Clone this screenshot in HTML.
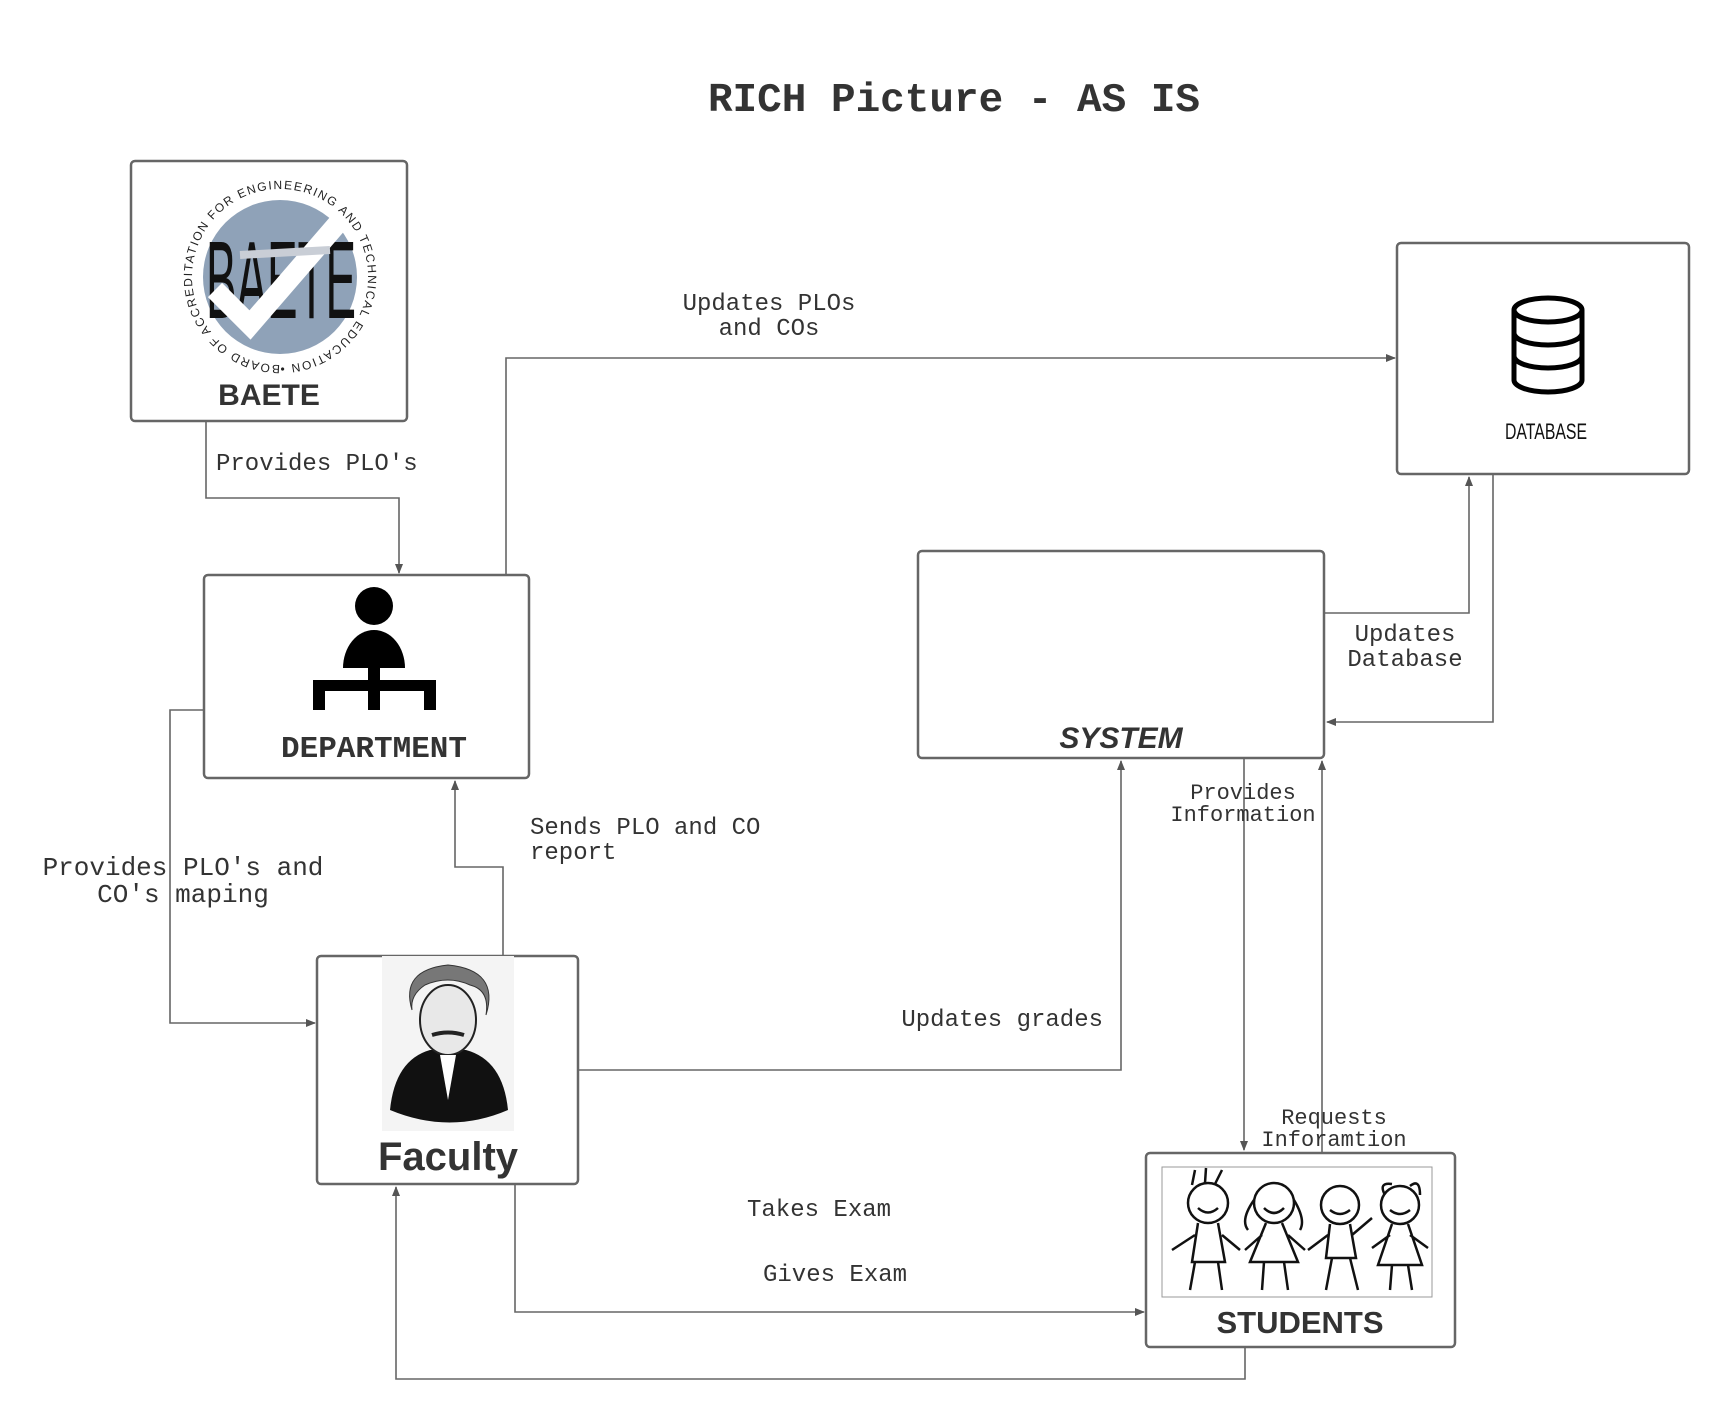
<!DOCTYPE html>
<html><head><meta charset="utf-8"><style>
html,body{margin:0;padding:0;background:#fff}
svg{display:block}
.lbl{font-family:"Liberation Mono",monospace;fill:#333}
</style></head><body>
<svg width="1722" height="1415" viewBox="0 0 1722 1415" xmlns="http://www.w3.org/2000/svg">
<defs>
<marker id="a" markerWidth="10" markerHeight="10" refX="9" refY="5" orient="auto" markerUnits="userSpaceOnUse"><path d="M0,1 L10,5 L0,9 Z" fill="#555"/></marker>
<path id="circ" d="M280,365 A88,88 0 1,1 280.1,365"/>
</defs>
<text x="954" y="111" text-anchor="middle" font-family="Liberation Mono,monospace" font-weight="bold" font-size="41" fill="#333">RICH Picture - AS IS</text>

<g fill="#fff" stroke="#666" stroke-width="2.5">
<rect x="131" y="161" width="276" height="260" rx="4"/>
<rect x="1397" y="243" width="292" height="231" rx="4"/>
<rect x="204" y="575" width="325" height="203" rx="4"/>
<rect x="918" y="551" width="406" height="207" rx="4"/>
<rect x="317" y="956" width="261" height="228" rx="4"/>
<rect x="1146" y="1153" width="309" height="194" rx="4"/>
</g>

<!-- BAETE logo -->
<circle cx="280" cy="277" r="77" fill="#8fa2b8"/>
<text font-family="Liberation Sans Narrow,Liberation Sans,sans-serif" font-size="110" fill="#111" x="206" y="318" textLength="150" lengthAdjust="spacingAndGlyphs">BAETE</text>
<path d="M215,290 L250,325 L345,215" fill="none" stroke="#fff" stroke-width="20"/>
<path d="M240,255 L330,250" stroke="#c9ced6" stroke-width="8"/>
<text font-family="Liberation Sans,sans-serif" font-size="12" fill="#222" letter-spacing="1.5"><textPath href="#circ">BOARD OF ACCREDITATION FOR ENGINEERING AND TECHNICAL EDUCATION •</textPath></text>
<text x="269" y="405" text-anchor="middle" font-family="Liberation Sans,sans-serif" font-weight="bold" font-size="30" fill="#333">BAETE</text>

<!-- Database icon -->
<g fill="none" stroke="#000" stroke-width="5">
<ellipse cx="1548" cy="310" rx="34" ry="12"/>
<path d="M1514,310 V380 A34,12 0 0,0 1582,380 V310"/>
<path d="M1514,333 A34,12 0 0,0 1582,333"/>
<path d="M1514,356 A34,12 0 0,0 1582,356"/>
</g>
<text x="1546" y="439" text-anchor="middle" font-family="Liberation Sans Narrow,Liberation Sans,sans-serif" font-size="22" fill="#111" textLength="82" lengthAdjust="spacingAndGlyphs">DATABASE</text>

<!-- Department icon -->
<circle cx="374" cy="606" r="19" fill="#000"/>
<path d="M343,668 A31,38 0 0,1 405,668 Z" fill="#000"/>
<rect x="368" y="660" width="12" height="50" fill="#000"/>
<rect x="313" y="680" width="123" height="11" fill="#000"/>
<rect x="313" y="680" width="12" height="30" fill="#000"/>
<rect x="424" y="680" width="12" height="30" fill="#000"/>
<text x="374" y="757" text-anchor="middle" font-family="Liberation Mono,monospace" font-weight="bold" font-size="31" fill="#333">DEPARTMENT</text>

<text x="1121" y="748" text-anchor="middle" font-family="Liberation Sans,sans-serif" font-weight="bold" font-style="italic" font-size="30" fill="#333">SYSTEM</text>

<!-- Faculty image -->
<rect x="382" y="956" width="132" height="175" fill="#f4f4f4"/>
<path d="M390,1110 Q395,1060 430,1050 L466,1050 Q503,1060 508,1110 Q450,1135 390,1110 Z" fill="#111"/>
<ellipse cx="448" cy="1020" rx="28" ry="35" fill="#e8e8e8" stroke="#222" stroke-width="2"/>
<path d="M412,1010 Q400,970 448,965 Q500,970 486,1015 Q490,990 470,985 Q448,975 425,985 Q410,995 412,1010 Z" fill="#777" stroke="#333"/>
<path d="M432,1035 Q448,1030 464,1035" stroke="#222" stroke-width="4" fill="none"/>
<path d="M440,1055 L448,1100 L456,1055 Z" fill="#fff"/>
<text x="448" y="1170" text-anchor="middle" font-family="Liberation Sans,sans-serif" font-weight="bold" font-size="40" fill="#333">Faculty</text>

<!-- Students image -->
<rect x="1162" y="1167" width="270" height="130" fill="#fff" stroke="#999" stroke-width="1"/>
<g fill="none" stroke="#111" stroke-width="2.5">
<circle cx="1208" cy="1203" r="20"/><path d="M1198,1208 Q1208,1217 1218,1208"/><path d="M1198,1223 L1192,1262 L1225,1262 L1218,1223 M1195,1262 L1190,1290 M1218,1262 L1222,1290 M1195,1235 L1172,1250 M1222,1235 L1240,1250 M1192,1185 L1195,1170 M1205,1183 L1206,1168 M1215,1184 L1222,1170"/>
<circle cx="1274" cy="1203" r="20"/><path d="M1264,1208 Q1274,1218 1284,1208"/><path d="M1266,1223 L1250,1262 L1298,1262 L1282,1223 M1264,1262 L1262,1290 M1284,1262 L1288,1290 M1262,1235 L1245,1250 M1288,1235 L1305,1250 M1254,1200 Q1240,1220 1248,1230 M1294,1200 Q1306,1220 1300,1230"/>
<circle cx="1340" cy="1205" r="19"/><path d="M1330,1210 Q1340,1218 1350,1210"/><path d="M1330,1224 L1326,1258 L1356,1258 L1350,1224 M1332,1258 L1326,1290 M1350,1258 L1358,1290 M1328,1235 L1308,1250 M1352,1235 L1372,1218"/>
<circle cx="1400" cy="1205" r="19"/><path d="M1390,1210 Q1400,1218 1410,1210"/><path d="M1392,1224 L1378,1265 L1422,1265 L1408,1224 M1392,1265 L1390,1290 M1408,1265 L1412,1290 M1390,1235 L1372,1248 M1410,1235 L1428,1248 M1385,1195 Q1378,1182 1392,1184 M1410,1186 Q1420,1178 1420,1195"/>
</g>
<text x="1300" y="1333" text-anchor="middle" font-family="Liberation Sans,sans-serif" font-weight="bold" font-size="31" fill="#333">STUDENTS</text>

<!-- connectors -->
<g fill="none" stroke="#666" stroke-width="1.6" marker-end="url(#a)">
<path d="M206,421 V498 H399 V573"/>
<path d="M506,575 V358 H1395"/>
<path d="M1324,613 H1469 V477"/>
<path d="M1493,474 V722 H1327"/>
<path d="M204,710 H170 V1023 H315"/>
<path d="M503,956 V867 H455 V781"/>
<path d="M578,1070 H1121 V761"/>
<path d="M1244,758 V1150"/>
<path d="M1322,1153 V761"/>
<path d="M515,1184 V1312 H1144"/>
<path d="M1245,1347 V1379 H396 V1187"/>
</g>

<!-- labels -->
<g class="lbl" font-size="24">
<text x="216" y="470">Provides PLO's</text>
<text x="769" y="310" text-anchor="middle">Updates PLOs</text>
<text x="769" y="335" text-anchor="middle">and COs</text>
<text x="1405" y="641" text-anchor="middle">Updates</text>
<text x="1405" y="666" text-anchor="middle">Database</text>
<text x="530" y="834">Sends PLO and CO</text>
<text x="530" y="859">report</text>
<text x="1103" y="1026" text-anchor="end">Updates grades</text>
<text x="747" y="1216">Takes Exam</text>
<text x="763" y="1281">Gives Exam</text>
</g>
<g class="lbl" font-size="26">
<text x="183" y="875" text-anchor="middle">Provides PLO's and</text>
<text x="183" y="902" text-anchor="middle">CO's maping</text>
</g>
<g class="lbl" font-size="22">
<text x="1243" y="799" text-anchor="middle">Provides</text>
<text x="1243" y="821" text-anchor="middle">Information</text>
<text x="1334" y="1124" text-anchor="middle">Requests</text>
<text x="1334" y="1146" text-anchor="middle">Inforamtion</text>
</g>
</svg>
</body></html>
